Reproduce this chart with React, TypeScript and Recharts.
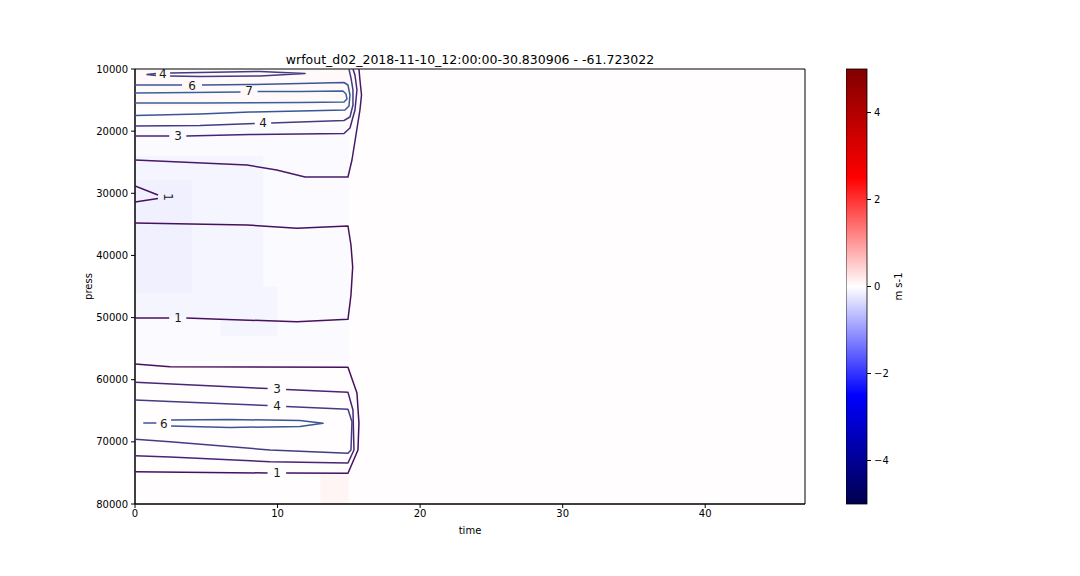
import React from "react";
import { ComposedChart, Scatter, XAxis, YAxis, ReferenceArea } from "recharts";

type Pt = [number, number];

const timeTicks = [0, 10, 20, 30, 40];
const pressTicks = [10000, 20000, 30000, 40000, 50000, 60000, 70000, 80000];
const cbarTicks = [-4, -2, 0, 2, 4];

// faint shading of the field (time from, time to, press from, press to, value)
const cellT0 = [0, 0, 15, 0, 0, 0, 6, 13];
const cellT1 = [15, 15, 47, 9, 4, 15, 10, 15];
const cellP0 = [10000, 19000, 10000, 24000, 28000, 10000, 45000, 75000];
const cellP1 = [80000, 57000, 80000, 50000, 46000, 16000, 53000, 80000];
const cellV = [0.02, -0.05, 0.02, -0.1, -0.15, 0.06, -0.1, 0.1];

// contour paths, split where the inline labels sit
const c4Top: Pt[][] = [
  [[2.46, 10644], [4.56, 10563], [8.77, 10402], [11.93, 10724], [8.77, 11126], [4.56, 11207], [2.46, 11126]],
  [[1.47, 10724], [0.84, 10885], [1.47, 11046]],
];
const c6Top: Pt[][] = [
  [[0, 12575], [3.3, 12575]],
  [[4.7, 12575], [8.07, 12494], [11.57, 12333], [14.66, 12172], [14.94, 12575], [15.08, 14184], [15.01, 15954], [14.73, 16598], [11.57, 16759], [8.07, 16920], [4.56, 17241], [0, 17482]],
];
const c7Top: Pt[][] = [
  [[0, 13862], [4.0, 13781], [7.4, 13701]],
  [[8.6, 13620], [11.57, 13620], [14.59, 13540], [14.8, 14023], [14.87, 14828], [14.66, 15310], [11.57, 15390], [4.56, 15471], [0, 15471]],
];
const c4Upper: Pt[][] = [
  [[0, 19172], [4.56, 19092], [8.4, 18770]],
  [[9.55, 18690], [11.57, 18529], [14.66, 18288], [15.08, 17724], [15.29, 15793], [15.29, 13379], [15.15, 11448], [15.01, 10000]],
];
const c3Upper: Pt[][] = [
  [[0, 20782], [2.4, 20782]],
  [[3.6, 20782], [8.07, 20541], [14.66, 20380], [15.08, 19494], [15.43, 16598], [15.57, 13379], [15.43, 10966], [15.29, 10000]],
];
const c2Upper: Pt[][] = [
  [[0, 24644], [7.86, 25448], [9.94, 26253], [11.93, 27379], [14.94, 27379], [15.22, 24644], [15.5, 20621], [15.78, 16598], [15.89, 14184], [15.78, 11770], [15.71, 10000]],
];
const c1Notch: Pt[][] = [
  [[0, 28828], [1.61, 30276]],
  [[1.61, 30839], [0, 31402]],
];
const c1Mid: Pt[][] = [
  [[0, 34782], [7.86, 35103], [11.36, 35634], [14.94, 35264], [15.15, 38322], [15.27, 41862], [15.15, 46368], [14.94, 50278], [11.36, 50665], [5.96, 50278], [3.6, 50069]],
  [[2.4, 50069], [0, 50069]],
];
const c1Lower: Pt[][] = [
  [[0, 57471], [2.46, 57906], [14.94, 58001], [15.57, 62138], [15.71, 66966], [15.64, 71311], [14.94, 75061], [10.6, 75012]],
  [[9.3, 75012], [0, 74802]],
];
const c3Lower: Pt[][] = [
  [[0, 60400], [9.3, 61430]],
  [[10.6, 61590], [14.94, 62025], [15.29, 64873], [15.36, 71311], [14.94, 73402], [9.47, 73188], [2.46, 72437], [0, 72223]],
];
const c4Lower: Pt[][] = [
  [[0, 63264], [2.46, 63505], [9.3, 64150]],
  [[10.6, 64310], [14.94, 64760], [15.22, 66757], [15.15, 71311], [14.94, 71842], [9.47, 71311], [2.46, 69975], [0, 69588]],
];
const c6Lower: Pt[][] = [
  [[0.58, 66966], [1.5, 66966]],
  [[2.53, 66483], [6.66, 66403], [11.57, 66564], [13.19, 67015], [11.57, 67528], [6.66, 67689], [2.53, 67448]],
];

const contours = [
  { level: 4, segs: c4Top },
  { level: 6, segs: c6Top },
  { level: 7, segs: c7Top },
  { level: 4, segs: c4Upper },
  { level: 3, segs: c3Upper },
  { level: 2, segs: c2Upper },
  { level: 1, segs: c1Notch },
  { level: 1, segs: c1Mid },
  { level: 1, segs: c1Lower },
  { level: 3, segs: c3Lower },
  { level: 4, segs: c4Lower },
  { level: 6, segs: c6Lower },
];

const levelColor: Record<number, string> = {
  1: "#45105f",
  2: "#47186b",
  3: "#482475",
  4: "#423c85",
  6: "#3b5597",
  7: "#38609c",
};

const labelText = ["4", "6", "7", "4", "3", "1", "1", "3", "4", "6", "1"];
const labelT = [1.96, 4.0, 8.0, 8.98, 3.02, 2.31, 3.02, 9.96, 9.96, 2.03, 9.96];
const labelP = [10805, 12736, 13540, 18690, 20782, 30598, 50069, 61494, 64230, 67127, 75012];
const labelAngle = [0, 0, 0, 0, 0, 90, 0, 0, 0, 0, 0];

const labels = labelText.map((text, i) => ({ t: labelT[i], p: labelP[i], text, angle: labelAngle[i] }));
const cells = cellV.map((v, i) => ({ t0: cellT0[i], t1: cellT1[i], p0: cellP0[i], p1: cellP1[i], v }));

// matplotlib "seismic" colormap over -5..5
const seismicStops: [number, number[]][] = [
  [0, [0, 0, 0.3]],
  [0.25, [0, 0, 1]],
  [0.5, [1, 1, 1]],
  [0.75, [1, 0, 0]],
  [1, [0.5, 0, 0]],
];
const seismic = (v: number) => {
  const x = Math.min(1, Math.max(0, (v + 5) / 10));
  for (let i = 0; i < seismicStops.length - 1; i++) {
    const [a, ca] = seismicStops[i];
    const [b, cb] = seismicStops[i + 1];
    if (x >= a && x <= b) {
      const f = (x - a) / (b - a);
      const c = ca.map((ch, k) => Math.round((ch + (cb[k] - ch) * f) * 255));
      return `rgb(${c[0]},${c[1]},${c[2]})`;
    }
  }
  return "#fff";
};

const fmtMinus = (v: number) => (v < 0 ? `\u2212${-v}` : `${v}`);
const noDot = () => <g />;

const ContourLabel = (props: any) => {
  const { cx, cy, payload } = props;
  return (
    <text
      x={cx}
      y={cy}
      dy="0.36em"
      textAnchor="middle"
      fontSize={12}
      fill="#1a1a1a"
      transform={payload.angle ? `rotate(${payload.angle} ${cx} ${cy})` : undefined}
    >
      {payload.text}
    </text>
  );
};

const ColorbarRect = (props: any) => {
  const { x, y, width, height } = props;
  return (
    <g>
      <defs>
        <linearGradient id="cbarGrad" x1="0" y1="1" x2="0" y2="0">
          {seismicStops.map(([o, c]) => (
            <stop key={o} offset={o} stopColor={`rgb(${c.map((ch) => Math.round(ch * 255)).join(",")})`} />
          ))}
        </linearGradient>
      </defs>
      <rect x={x} y={y} width={width} height={height} fill="url(#cbarGrad)" stroke="#000" strokeWidth={0.8} />
    </g>
  );
};

export default function App() {
  return (
    <div style={{ position: "absolute", left: 0, top: 0, width: 1080, height: 576, background: "#fff", fontFamily: "DejaVu Sans" }}>
      <div style={{ position: "absolute", left: 135, top: 52, width: 670, textAlign: "center", fontSize: 12.5, color: "#000" }}>
        wrfout_d02_2018-11-10_12:00:00-30.830906 - -61.723022
      </div>
      <div style={{ position: "absolute", left: 0, top: 0 }}>
        <ComposedChart width={820} height={576} margin={{ top: 69, right: 15, bottom: 42, left: 75 }}>
          <XAxis
            dataKey="t"
            type="number"
            domain={[0, 47]}
            ticks={timeTicks}
            allowDataOverflow
            height={30}
            tickSize={4}
            tickMargin={2}
            tick={{ fontSize: 10, fill: "#000" }}
            stroke="#000"
            label={{ value: "time", position: "insideBottom", offset: 0, dy: 0, fontSize: 10, fill: "#000" } as any}
          />
          <YAxis
            dataKey="p"
            type="number"
            domain={[10000, 80000]}
            reversed
            ticks={pressTicks}
            allowDataOverflow
            width={60}
            tickSize={4}
            tickMargin={3}
            tick={{ fontSize: 10, fill: "#000" }}
            stroke="#000"
            label={{
              content: ({ viewBox }: any) => (
                <text
                  x={viewBox.x + 13}
                  y={viewBox.y + viewBox.height / 2}
                  textAnchor="middle"
                  dy="0.35em"
                  fontSize={10}
                  fill="#000"
                  transform={`rotate(-90 ${viewBox.x + 13} ${viewBox.y + viewBox.height / 2})`}
                >
                  press
                </text>
              ),
            } as any}
          />
          {cells.map((c, i) => (
            <ReferenceArea
              key={`cell-${i}`}
              x1={c.t0}
              x2={c.t1}
              y1={c.p0}
              y2={c.p1}
              fill={seismic(c.v)}
              fillOpacity={1}
              stroke="none"
              ifOverflow="hidden"
            />
          ))}
          {contours.flatMap((c, ci) =>
            c.segs.map((seg, si) => (
              <Scatter
                key={`c-${ci}-${si}`}
                data={seg.map(([t, p]) => ({ t, p }))}
                line={{ stroke: levelColor[c.level], strokeWidth: 1.5, strokeLinejoin: "round" } as any}
                lineType="joint"
                fill={levelColor[c.level]}
                shape={noDot}
                isAnimationActive={false}
              />
            ))
          )}
          <Scatter data={labels} shape={ContourLabel} isAnimationActive={false} />
          <ReferenceArea x1={0} x2={47} y1={10000} y2={80000} fill="none" stroke="#000" strokeWidth={1} />
        </ComposedChart>
      </div>
      <div style={{ position: "absolute", left: 846, top: 0 }}>
        <ComposedChart width={120} height={576} margin={{ top: 69, right: 49, bottom: 72, left: 0 }}>
          <XAxis dataKey="x" type="number" domain={[0, 1]} hide />
          <YAxis
            dataKey="y"
            type="number"
            orientation="right"
            domain={[-5, 5]}
            ticks={cbarTicks}
            width={50}
            tickSize={4}
            tickMargin={3}
            axisLine={false}
            tickFormatter={fmtMinus}
            tick={{ fontSize: 10, fill: "#000" }}
            tickLine={{ stroke: "#000" }}
            label={{
              content: ({ viewBox }: any) => (
                <text
                  x={viewBox.x + 31}
                  y={viewBox.y + viewBox.height / 2}
                  textAnchor="middle"
                  dy="0.35em"
                  fontSize={10}
                  fill="#000"
                  transform={`rotate(-90 ${viewBox.x + 31} ${viewBox.y + viewBox.height / 2})`}
                >
                  m s-1
                </text>
              ),
            } as any}
          />
          <Scatter data={[{ x: 0.5, y: 0 }]} shape={noDot} isAnimationActive={false} />
          <ReferenceArea x1={0} x2={1} y1={-5} y2={5} shape={ColorbarRect} />
        </ComposedChart>
      </div>
    </div>
  );
}
